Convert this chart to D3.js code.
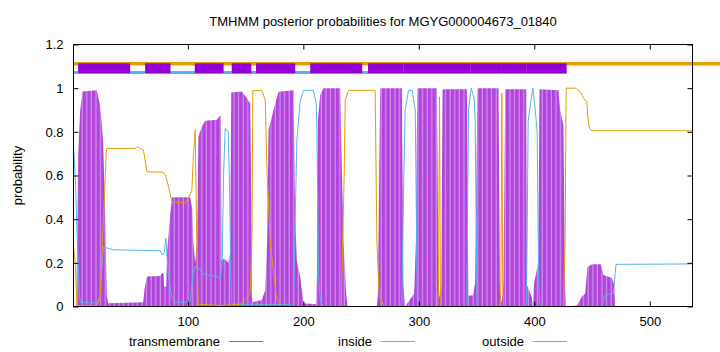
<!DOCTYPE html>
<html>
<head>
<meta charset="utf-8">
<script src="https://cdn.jsdelivr.net/npm/d3@7"></script>
<style>
  body { margin: 0; background: #fff; }
  svg { display: block; font-family: 'Liberation Sans', Arial, sans-serif; }
</style>
</head>
<body>
<div id="chart"></div>
<script>
const title = 'TMHMM posterior probabilities for MGYG000004673_01840'
const seqRange = [1, 537]
const xTicks = [100, 200, 300, 400, 500]
const yTicks = [0, 0.2, 0.4, 0.6, 0.8, 1, 1.2]
const seriesNames = ['transmembrane', 'inside', 'outside']

// [residue, posterior probability]
const transmembrane = [
  [1, 0], [3.4, 0], [4.5, 0.47], [5.1, 0.7], [6.8, 0.9], [8.8, 0.985], [21.3, 0.99], [24.1, 0.915],
  [25, 0.87], [26.7, 0.75], [28.5, 0.4], [29.8, 0.05], [31, 0.015], [61.4, 0.02], [62.5, 0.08],
  [64.6, 0.137], [76, 0.14], [77.8, 0.155], [79, 0.15], [79.5, 0.09], [81.3, 0.09], [82, 0.245],
  [84.7, 0.42], [86.5, 0.5], [102, 0.5], [103.8, 0.45], [104.7, 0.3], [106.4, 0.2], [107.8, 0.3],
  [109.2, 0.78], [112.2, 0.824], [115, 0.851], [125.2, 0.855], [127.4, 0.873], [128.6, 0.873],
  [129.2, 0.21], [131.5, 0.22], [135, 0.2], [136.7, 0.25], [137.6, 0.98], [146.8, 0.985],
  [151.2, 0.954], [154, 0.93], [155, 0.5], [155.5, 0.05], [156.3, 0.02], [164, 0.03], [167, 0.075],
  [168.7, 0.3], [169.9, 0.81], [174.2, 0.9], [178.5, 0.984], [191.5, 0.99], [193, 0.4], [194.4, 0.21],
  [197.3, 0.137], [200.2, 0.015], [211.2, 0.01], [211.8, 0.15], [212.6, 0.85], [214.6, 0.969],
  [217.5, 1], [231.9, 1], [233.5, 0.6], [234.8, 0.3], [237.1, 0.06], [238.3, 0], [263.7, 0],
  [264.6, 0.06], [265.7, 0.6], [266.6, 1], [285.3, 1], [286.7, 0.1], [288.2, 0], [296, 0.06],
  [297.5, 0.3], [298.3, 0.8], [298.9, 1], [315.7, 1], [317.1, 0.12], [317.9, 0.04], [319.4, 0.08],
  [320.6, 0.995], [341.6, 0.995], [343, 0.05], [347, 0.05], [348.8, 0.11], [350.8, 1], [369, 1],
  [370.3, 0.05], [371.9, 0.02], [373.3, 0.1], [374.8, 0.995], [393, 0.995], [393.6, 0.1],
  [397.9, 0.04], [398.8, 0], [399.9, 0.11], [403.5, 0.2], [404.5, 0.995], [420.9, 0.99],
  [422.4, 0.9], [425.2, 0.83], [426.7, 0.1], [427.5, 0], [436.9, 0.005], [441.2, 0.045],
  [444.1, 0.06], [446, 0.18], [449.9, 0.193], [457.6, 0.193], [459.9, 0.144], [467.2, 0.13],
  [469.2, 0.1], [470, 0], [537, 0],
]

const inside = [
  [1, 0.735], [2.5, 0.6], [4.3, 0.3], [6.1, 0.05], [7, 0.02], [21.5, 0.015], [24.1, 0.05], [25.8, 0.2],
  [27, 0.274], [28.5, 0.27], [35.4, 0.26], [76.1, 0.255], [77.8, 0.236], [79.5, 0.245], [81, 0.312],
  [81.9, 0.24], [83.3, 0.137], [86.2, 0.04], [89.1, 0.02], [102.1, 0.02], [104.4, 0.15], [106.4, 0.182],
  [110.7, 0.17], [112.2, 0.15], [125.2, 0.137], [128, 0.13], [129.8, 0.2], [130.9, 0.6], [132.4, 0.816],
  [135, 0.8], [136.3, 0.5], [137.6, 0.02], [139, 0.01], [191.5, 0.01], [193, 0.4], [194.4, 0.76],
  [197.3, 0.94], [200.2, 0.99], [208.8, 0.99], [211.2, 0.93], [211.8, 0.8], [213.2, 0.15], [214.6, 0.03],
  [217, 0], [285.3, 0], [286.7, 0.5], [288.2, 0.9], [291.1, 0.99], [294.3, 0.99], [296.9, 0.9],
  [298.3, 0.2], [298.9, 0], [341.6, 0], [343, 0.9], [345.4, 1], [348, 0.95], [348.8, 0.85], [350.5, 0],
  [393, 0], [393.6, 0.2], [394.7, 0.85], [397.3, 0.95], [398.8, 1], [400.8, 0.9], [402.5, 0.8],
  [403.8, 0.1], [405.1, 0], [458.5, 0], [461.3, 0.053], [468.5, 0.06], [470, 0.15], [470.8, 0.193],
  [537, 0.195],
]

const outside = [
  [1, 0.274], [2.5, 0.2], [3.8, 0.02], [4.3, 0.005], [21.5, 0.005], [24.1, 0.05], [27, 0.41], [29.3, 0.7],
  [29.9, 0.724], [54.4, 0.724], [55.9, 0.732], [58.7, 0.725], [61.6, 0.716], [64.6, 0.617], [78.9, 0.615],
  [81, 0.595], [83.3, 0.55], [86.2, 0.48], [97.7, 0.475], [100.6, 0.5], [103.5, 0.53], [104.9, 0.7],
  [106.4, 0.81], [107.7, 0.3], [109, 0.01], [128, 0.005], [145.4, 0.01], [151.2, 0.04], [154, 0.06],
  [155.5, 0.3], [156.3, 0.989], [164.1, 0.989], [167, 0.946], [168.7, 0.6], [171.3, 0.3], [176.5, 0.05],
  [180, 0], [232.8, 0], [235.4, 0.6], [236.3, 0.946], [239.1, 0.99], [262.2, 0.99], [263.7, 0.3],
  [265.7, 0.05], [270, 0], [316.3, 0], [317.1, 0.1], [317.9, 0.96], [318.7, 0.1], [319.4, 0],
  [370.4, 0], [371.1, 0.1], [371.9, 0.977], [372.7, 0.1], [373.5, 0], [425.2, 0], [426.7, 0.3],
  [427.6, 1], [435.4, 1], [439.8, 0.984], [442.6, 0.954], [445.5, 0.938], [446.7, 0.85], [447.8, 0.816],
  [449.9, 0.805], [537, 0.805],
]

// predicted topology strip above 1.0
const tmSegments = [
  [5, 50], [63, 85], [106, 131], [138, 155], [159, 193], [206, 251],
  [256, 287], [287, 327], [327, 345], [345, 372], [372, 393], [393, 428],
]
const insideBand = [1, 428]
const outsideBand = [1, 561]

const width = 720
const height = 352
const margin = { top: 44.5, right: 27.5, bottom: 45.5, left: 73.5 }
const colors = { tm: '#b244dd', tmLight: '#d29aec', tmBox: '#9400d3', inside: '#56b4e9', outside: '#e69f00' }

const x = d3.scaleLinear().domain(seqRange).range([margin.left, width - margin.right])
const y = d3.scaleLinear().domain([0, 1.2]).range([height - margin.bottom, margin.top])

const svg = d3
  .select('#chart')
  .append('svg')
  .attr('width', width)
  .attr('height', height)
  .attr('viewBox', [0, 0, width, height])
  .style('font-size', '13px')

// impulses look: stripes of lighter purple
const pattern = svg
  .append('defs')
  .append('pattern')
  .attr('id', 'tmFill')
  .attr('patternUnits', 'userSpaceOnUse')
  .attr('width', 4.6)
  .attr('height', 10)
pattern.append('rect').attr('width', 4.6).attr('height', 10).attr('fill', colors.tm)
pattern.append('rect').attr('x', 3.4).attr('width', 1.1).attr('height', 10).attr('fill', colors.tmLight)

const area = d3
  .area()
  .x((d) => x(d[0]))
  .y0(y(0))
  .y1((d) => y(d[1]))

const line = d3
  .line()
  .x((d) => x(d[0]))
  .y((d) => y(d[1]))

svg.append('path').datum(transmembrane).attr('d', area).attr('fill', 'url(#tmFill)')

svg
  .append('path')
  .datum(inside)
  .attr('d', line)
  .attr('fill', 'none')
  .attr('stroke', colors.inside)
  .attr('stroke-width', 1)

svg
  .append('path')
  .datum(outside)
  .attr('d', line)
  .attr('fill', 'none')
  .attr('stroke', colors.outside)
  .attr('stroke-width', 1)

// topology strip
svg
  .append('line')
  .attr('x1', x(outsideBand[0]))
  .attr('x2', x(outsideBand[1]))
  .attr('y1', y(1.1115))
  .attr('y2', y(1.1115))
  .attr('stroke', colors.outside)
  .attr('stroke-width', 3.6)

svg
  .append('line')
  .attr('x1', x(insideBand[0]))
  .attr('x2', x(insideBand[1]))
  .attr('y1', y(1.072))
  .attr('y2', y(1.072))
  .attr('stroke', colors.inside)
  .attr('stroke-width', 3)

svg
  .append('g')
  .selectAll('rect')
  .data(tmSegments)
  .join('rect')
  .attr('x', (d) => x(d[0]))
  .attr('width', (d) => x(d[1]) - x(d[0]))
  .attr('y', y(1.114))
  .attr('height', y(1.069) - y(1.114))
  .attr('fill', colors.tmBox)

// axes, gnuplot style with inward ticks
const axisStyle = (g) => {
  g.select('.domain').remove()
  g.selectAll('.tick line').attr('stroke', '#000')
  g.selectAll('.tick text').attr('fill', '#000').style('font-size', '13px')
}

svg
  .append('g')
  .attr('transform', `translate(${margin.left},0)`)
  .call(d3.axisLeft(y).tickValues(yTicks).tickSize(-5).tickPadding(10).tickFormat((d) => d))
  .call(axisStyle)

svg
  .append('g')
  .attr('transform', `translate(${width - margin.right},0)`)
  .call(d3.axisRight(y).tickValues(yTicks).tickSize(-5).tickFormat(''))
  .call(axisStyle)

svg
  .append('g')
  .attr('transform', `translate(0,${height - margin.bottom})`)
  .call(d3.axisBottom(x).tickValues(xTicks).tickSize(-5).tickPadding(10).tickFormat((d) => d))
  .call(axisStyle)

svg
  .append('g')
  .attr('transform', `translate(0,${margin.top})`)
  .call(d3.axisTop(x).tickValues(xTicks).tickSize(-5).tickFormat(''))
  .call(axisStyle)

svg
  .append('rect')
  .attr('x', margin.left)
  .attr('y', margin.top)
  .attr('width', width - margin.left - margin.right)
  .attr('height', height - margin.top - margin.bottom)
  .attr('fill', 'none')
  .attr('stroke', '#000')
  .attr('stroke-width', 1)

// title and y label
svg
  .append('text')
  .attr('x', (margin.left + width - margin.right) / 2)
  .attr('y', 26)
  .attr('text-anchor', 'middle')
  .text(title)

svg
  .append('text')
  .attr('transform', `translate(22,${(margin.top + height - margin.bottom) / 2}) rotate(-90)`)
  .attr('text-anchor', 'middle')
  .text('probability')

// key along the bottom
const legendColors = [colors.tm, colors.inside, colors.outside]
const key = svg
  .append('g')
  .selectAll('g')
  .data(seriesNames)
  .join('g')
  .attr('transform', (d, i) => `translate(${220 + i * 152},341.5)`)

key
  .append('text')
  .attr('text-anchor', 'end')
  .attr('dy', '0.35em')
  .text((d) => d)

key
  .append('line')
  .attr('x1', 9)
  .attr('x2', 43)
  .attr('stroke', (d, i) => legendColors[i])
  .attr('stroke-width', 1)
</script>
</body>
</html>
